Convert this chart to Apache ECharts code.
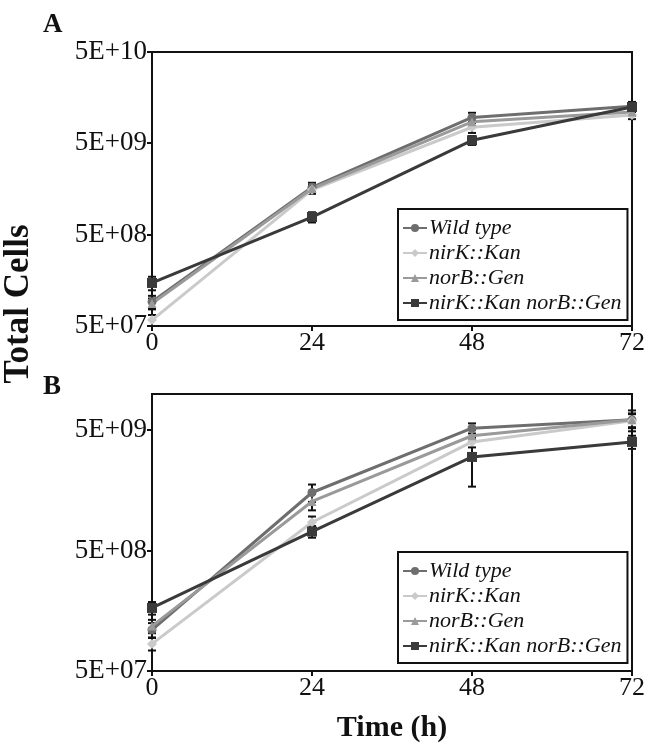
<!DOCTYPE html>
<html>
<head>
<meta charset="utf-8">
<script src="https://cdn.jsdelivr.net/npm/echarts@6/dist/echarts.min.js"></script>
<style>
  html, body { margin: 0; padding: 0; background: #fff; }
  #chart { width: 650px; height: 755px; }
</style>
</head>
<body>
<div id="chart"></div>
<script>
// time points (h)
const hours = [0, 24, 48, 72];
const seriesNames = ['Wild type', 'nirK::Kan', 'norB::Gen', 'nirK::Kan norB::Gen'];

// panel A - total cells
const wildA = [9.2e7, 1.65e9, 9.6e9, 1.27e10];
const nirKA = [5.8e7, 1.55e9, 7.5e9, 1.02e10];
const norBA = [8.8e7, 1.6e9, 8.6e9, 1.1e10];
const doubleA = [1.48e8, 7.8e8, 5.4e9, 1.25e10];
// panel A - error (sd)
const wildErrA = [1.5e7, 2.0e8, 1.2e9, 1.5e9];
const nirKErrA = [8e6, 1.5e8, 1.0e9, 1.0e9];
const norBErrA = [1.2e7, 1.5e8, 1.0e9, 1.0e9];
const doubleErrA = [2.5e7, 1.0e8, 6e8, 1.5e9];

// panel B - total cells
const wildB = [1.1e8, 1.52e9, 5.2e9, 6.1e9];
const nirKB = [8.4e7, 8.6e8, 4.0e9, 6.0e9];
const norBB = [1.18e8, 1.28e9, 4.5e9, 6.1e9];
const doubleB = [1.67e8, 7.2e8, 3.0e9, 4.0e9];
// panel B - error (sd)
const wildErrB = [1.5e7, 2.5e8, 5e8, 1.2e9];
const nirKErrB = [1e7, 1e8, 4e8, 8e8];
const norBErrB = [1.5e7, 2e8, 5e8, 8e8];
const doubleErrB = [2e7, 8e7, 1.3e9, 5e8];

// axis ranges
const yRangeA = [5e7, 5e10];
const yRangeB = [5e7, 1e10];

const colors = ['#6e6e6e', '#cacaca', '#9a9a9a', '#3a3a3a'];
const symbols = ['circle', 'diamond', 'triangle', 'rect'];
const symbolSizes = [9, 10, 9, 10];
const serif = "'Liberation Serif', 'Times New Roman', serif";

function fmtSci(v) {
  const e = Math.floor(Math.log10(v) + 1e-9);
  const m = v / Math.pow(10, e);
  if (Math.abs(m - 5) > 0.1) return '';
  return '5E+' + (e < 10 ? '0' : '') + e;
}

function pts(vals) {
  return vals.map((v, i) => [hours[i], v]);
}
function errPts(vals, errs) {
  return vals.map((v, i) => [hours[i], v - errs[i], v + errs[i]]);
}

function errorSeries(vals, errs, idx) {
  return {
    type: 'custom',
    xAxisIndex: idx, yAxisIndex: idx,
    z: 1,
    silent: true,
    data: errPts(vals, errs),
    renderItem: function (params, api) {
      const lo = api.coord([api.value(0), api.value(1)]);
      const hi = api.coord([api.value(0), api.value(2)]);
      const w = 4;
      const style = { stroke: '#111', lineWidth: 2 };
      return {
        type: 'group',
        children: [
          { type: 'line', shape: { x1: lo[0], y1: lo[1], x2: hi[0], y2: hi[1] }, style },
          { type: 'line', shape: { x1: lo[0] - w, y1: lo[1], x2: lo[0] + w, y2: lo[1] }, style },
          { type: 'line', shape: { x1: hi[0] - w, y1: hi[1], x2: hi[0] + w, y2: hi[1] }, style }
        ]
      };
    }
  };
}

function lineSeries(name, vals, k, idx) {
  return {
    name: name,
    type: 'line',
    xAxisIndex: idx, yAxisIndex: idx,
    z: 3,
    data: pts(vals),
    symbol: symbols[k],
    symbolSize: symbolSizes[k],
    showAllSymbol: true,
    lineStyle: { color: colors[k], width: 3 },
    itemStyle: { color: colors[k] },
    emphasis: { disabled: true },
    animation: false
  };
}

const panelA = [wildA, nirKA, norBA, doubleA];
const panelAErr = [wildErrA, nirKErrA, norBErrA, doubleErrA];
const panelB = [wildB, nirKB, norBB, doubleB];
const panelBErr = [wildErrB, nirKErrB, norBErrB, doubleErrB];

const series = [];
panelA.forEach((vals, k) => series.push(errorSeries(vals, panelAErr[k], 0)));
panelB.forEach((vals, k) => series.push(errorSeries(vals, panelBErr[k], 1)));
panelA.forEach((vals, k) => series.push(lineSeries(seriesNames[k], vals, k, 0)));
panelB.forEach((vals, k) => series.push(lineSeries(seriesNames[k], vals, k, 1)));

function xAxis(idx, withName) {
  return {
    type: 'value',
    gridIndex: idx,
    min: 0, max: 72, interval: 24,
    name: withName ? 'Time (h)' : '',
    nameLocation: 'middle',
    nameGap: 42,
    nameTextStyle: { fontFamily: serif, fontWeight: 'bold', fontSize: 30, color: '#111' },
    axisLine: { lineStyle: { color: '#111', width: 2 } },
    axisTick: { length: 5, lineStyle: { color: '#111', width: 2 } },
    axisLabel: { fontFamily: serif, fontSize: 26, color: '#111', margin: 4 },
    splitLine: { show: false }
  };
}

function yAxis(idx, range) {
  return {
    type: 'log',
    logBase: 10,
    gridIndex: idx,
    min: range[0], max: range[1], interval: 1,
    axisLine: { show: true, lineStyle: { color: '#111', width: 2 } },
    axisTick: { show: true, length: 5, lineStyle: { color: '#111', width: 2 } },
    axisLabel: { fontFamily: serif, fontSize: 27, color: '#111', margin: 5, formatter: fmtSci, showMaxLabel: range[1] === 5e10 },
    minorTick: { show: false },
    splitLine: { show: false }
  };
}

function legend(top) {
  return {
    data: seriesNames,
    orient: 'vertical',
    left: 398, top: top,
    itemWidth: 24, itemHeight: 10,
    itemGap: 3,
    padding: [8, 6, 6, 4],
    borderColor: '#111', borderWidth: 2,
    backgroundColor: '#fff',
    selectedMode: false,
    textStyle: { fontFamily: serif, fontStyle: 'italic', fontSize: 22, color: '#111', padding: [0, 0, 0, -3] }
  };
}

const chart = echarts.init(document.getElementById('chart'));
chart.setOption({
  animation: false,
  grid: [
    { left: 152, top: 52, width: 480, height: 274, show: true, borderColor: '#111', borderWidth: 2 },
    { left: 152, top: 394, width: 480, height: 277, show: true, borderColor: '#111', borderWidth: 2 }
  ],
  xAxis: [xAxis(0, false), xAxis(1, true)],
  yAxis: [yAxis(0, yRangeA), yAxis(1, yRangeB)],
  legend: [legend(209), legend(552)],
  graphic: [
    { type: 'text', left: 43, top: 12, style: { text: 'A', font: "bold 27px 'Liberation Serif', serif", fill: '#111' } },
    { type: 'text', left: 43, top: 374, style: { text: 'B', font: "bold 27px 'Liberation Serif', serif", fill: '#111' } },
    { type: 'text', x: 19, y: 304, rotation: Math.PI / 2,
      style: { text: 'Total Cells', font: "bold 35px 'Liberation Serif', serif", fill: '#111', align: 'center', verticalAlign: 'middle' } }
  ],
  series: series
});
</script>
</body>
</html>
